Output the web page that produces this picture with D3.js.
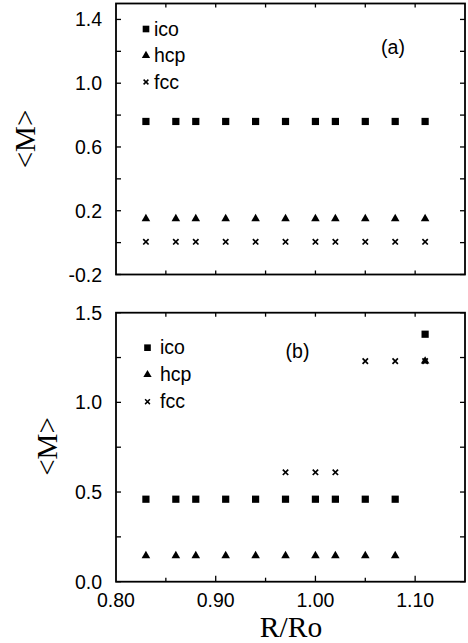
<!DOCTYPE html>
<html>
<head>
<meta charset="utf-8">
<script src="https://cdn.jsdelivr.net/npm/d3@7"></script>
<style>
  body { margin: 0; background: #fff; }
  text { fill: #000; }
</style>
</head>
<body>
<div id="chart"></div>
<script>
var width = 468, height = 643;

// R/Ro values (x positions of the points)
var ratio = [0.83, 0.86, 0.88, 0.91, 0.94, 0.97, 1.00, 1.02, 1.05, 1.08, 1.11];

// panel (a)
var icoA = [0.76, 0.76, 0.76, 0.76, 0.76, 0.76, 0.76, 0.76, 0.76, 0.76, 0.76];
var hcpA = [0.15, 0.15, 0.15, 0.15, 0.15, 0.15, 0.15, 0.15, 0.15, 0.15, 0.15];
var fccA = [0.005, 0.005, 0.005, 0.005, 0.005, 0.005, 0.005, 0.005, 0.005, 0.005, 0.005];

// panel (b) - fcc has no value for the small radii
var icoB = [0.46, 0.46, 0.46, 0.46, 0.46, 0.46, 0.46, 0.46, 0.46, 0.46, 1.38];
var hcpB = [0.145, 0.145, 0.145, 0.145, 0.145, 0.145, 0.145, 0.145, 0.145, 0.145, 1.23];
var fccB = [null, null, null, null, null, 0.61, 0.61, 0.61, 1.23, 1.23, 1.23];

var xTickLabels = ["0.80", "0.90", "1.00", "1.10"];
var yTicksA = [-0.2, 0.2, 0.6, 1.0, 1.4];
var yTicksB = [0.0, 0.5, 1.0, 1.5];
var legendNames = ["ico", "hcp", "fcc"];

var svg = d3.select('#chart')
  .append('svg')
  .attr('width', width)
  .attr('height', height);

var x = d3.scaleLinear().domain([0.80, 1.15]).range([116, 465]);

var sansFont = "'Liberation Sans', Arial, sans-serif";
var serifFont = "'Liberation Serif', 'Times New Roman', serif";

var squarePath = d3.symbol().type(d3.symbolSquare).size(52)();
var trianglePath = d3.symbol().type(d3.symbolTriangle).size(32)();
var crossPath = "M-2.7,-2.7L2.7,2.7M-2.7,2.7L2.7,-2.7";

function drawMarks(g, y, values, kind, pathStr) {
  var pts = ratio.map(function(r, i){ return {r: r, v: values[i]}; })
    .filter(function(d){ return d.v !== null; });
  g.selectAll('path.' + kind)
    .data(pts)
    .enter()
    .append('path')
    .attr('class', kind)
    .attr('d', pathStr)
    .attr('transform', function(d){
      return 'translate(' + x(d.r) + ',' + y(d.v) + ')';
    })
    .attr('fill', kind === 'fcc' ? 'none' : '#000')
    .attr('stroke', kind === 'fcc' ? '#000' : 'none')
    .attr('stroke-width', 1.7);
}

function drawPanel(opt) {
  var y = d3.scaleLinear().domain(opt.domain).range(opt.range);
  var g = svg.append('g');
  var x0 = x.range()[0], x1 = x.range()[1];
  var y0 = opt.range[0], y1 = opt.range[1];

  // ticks: inward, on all four sides
  var xt = d3.range(0.85, 1.149, 0.05);
  xt.forEach(function(t){
    var major = Math.abs(Math.round(t * 100) % 10) === 0;
    var len = opt.showX && major ? 6 : 4;
    g.append('line').attr('x1', x(t)).attr('x2', x(t)).attr('y1', y0).attr('y2', y0 - len)
      .attr('stroke', '#000').attr('stroke-width', 1.3);
    g.append('line').attr('x1', x(t)).attr('x2', x(t)).attr('y1', y1).attr('y2', y1 + 4)
      .attr('stroke', '#000').attr('stroke-width', 1.3);
  });
  opt.yMinor.concat(opt.yTicks).forEach(function(t){
    g.append('line').attr('x1', x0).attr('x2', x0 + 5).attr('y1', y(t)).attr('y2', y(t))
      .attr('stroke', '#000').attr('stroke-width', 1.3);
    g.append('line').attr('x1', x1).attr('x2', x1 - 5).attr('y1', y(t)).attr('y2', y(t))
      .attr('stroke', '#000').attr('stroke-width', 1.3);
  });

  // frame
  g.append('rect')
    .attr('x', x0).attr('y', y1)
    .attr('width', x1 - x0).attr('height', y0 - y1)
    .attr('fill', 'none').attr('stroke', '#000').attr('stroke-width', 1.8);

  // y tick labels (plain hyphen for the minus sign, as in the original)
  g.selectAll('text.ytick')
    .data(opt.yTicks)
    .enter()
    .append('text')
    .attr('class', 'ytick')
    .attr('x', x0 - 14)
    .attr('y', function(d){ return y(d); })
    .attr('dy', '0.36em')
    .attr('text-anchor', 'end')
    .style('font-family', sansFont)
    .style('font-size', '19.5px')
    .text(function(d){ return d.toFixed(1); });

  if (opt.showX) {
    g.selectAll('text.xtick')
      .data(xTickLabels)
      .enter()
      .append('text')
      .attr('class', 'xtick')
      .attr('x', function(d){ return x(+d); })
      .attr('y', y0 + 25)
      .attr('text-anchor', 'middle')
      .style('font-family', sansFont)
      .style('font-size', '19.5px')
      .text(function(d){ return d; });
  }

  // y axis title
  g.append('text')
    .attr('transform', 'translate(' + opt.titleX + ',' + opt.titleY + ') rotate(-90)')
    .attr('text-anchor', 'middle')
    .attr('dy', '0.35em')
    .style('font-family', serifFont)
    .style('font-size', '29px')
    .text('<M>');

  // points
  drawMarks(g, y, opt.ico, 'ico', squarePath);
  drawMarks(g, y, opt.fcc, 'fcc', crossPath);
  drawMarks(g, y, opt.hcp, 'hcp', trianglePath);

  // legend
  var legendPaths = [d3.symbol().type(d3.symbolSquare).size(44)(), d3.symbol().type(d3.symbolTriangle).size(30)(), "M-2.4,-2.4L2.4,2.4M-2.4,2.4L2.4,-2.4"];
  legendNames.forEach(function(name, i){
    var ly = opt.legendY + i * opt.legendStep;
    g.append('path')
      .attr('d', legendPaths[i])
      .attr('transform', 'translate(' + opt.legendX + ',' + ly + ')')
      .attr('fill', i === 2 ? 'none' : '#000')
      .attr('stroke', i === 2 ? '#000' : 'none')
      .attr('stroke-width', 1.5);
    g.append('text')
      .attr('x', opt.legendTextX)
      .attr('y', ly + 6.5)
      .style('font-family', sansFont)
      .style('font-size', '19.5px')
      .text(name);
  });

  // panel tag
  g.append('text')
    .attr('x', opt.tagX)
    .attr('y', opt.tagY)
    .attr('text-anchor', 'middle')
    .style('font-family', sansFont)
    .style('font-size', '19.5px')
    .text(opt.tag);
}

drawPanel({
  domain: [-0.2, 1.5], range: [274.5, 3.5],
  yTicks: yTicksA, yMinor: [0.0, 0.4, 0.8, 1.2],
  ico: icoA, hcp: hcpA, fcc: fccA,
  showX: false,
  titleX: 25, titleY: 139,
  legendX: 146, legendTextX: 154, legendY: 29, legendStep: 26.5,
  tag: '(a)', tagX: 393, tagY: 54
});

drawPanel({
  domain: [0.0, 1.5], range: [581.7, 312.7],
  yTicks: yTicksB, yMinor: [0.25, 0.75, 1.25],
  ico: icoB, hcp: hcpB, fcc: fccB,
  showX: true,
  titleX: 47, titleY: 446.5,
  legendX: 147.5, legendTextX: 160, legendY: 347.7, legendStep: 27,
  tag: '(b)', tagX: 297.5, tagY: 358
});

// x axis title
svg.append('text')
  .attr('x', 291)
  .attr('y', 637)
  .attr('text-anchor', 'middle')
  .style('font-family', serifFont)
  .style('font-size', '29.5px')
  .text('R/Ro');
</script>
</body>
</html>
